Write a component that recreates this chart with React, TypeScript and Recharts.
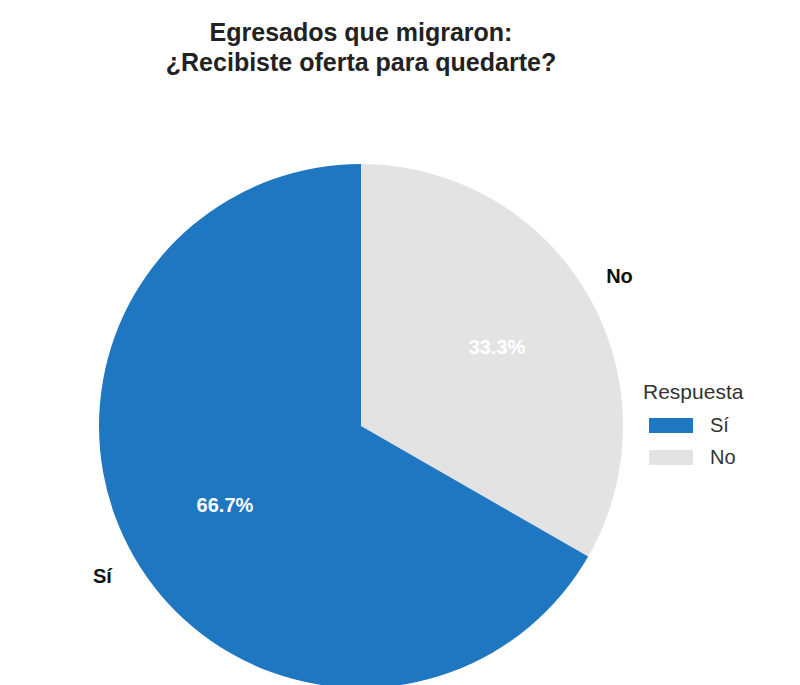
import { Legend, Pie, PieChart, Cell } from 'recharts';

const respuestas = ['No', 'Sí'];
const porcentajes = [33.3, 66.7];
const colores = ['#e3e3e3', '#1f77c2'];
const legendOrder = ['Sí', 'No'];

const data = respuestas.map((name, i) => ({ name, value: porcentajes[i] }));

const RAD = Math.PI / 180;

function SliceLabel(props: any) {
  const { cx, cy, midAngle, outerRadius, payload } = props;
  const cos = Math.cos(-midAngle * RAD);
  const sin = Math.sin(-midAngle * RAD);
  const rIn = outerRadius * 0.6;
  const rOut = outerRadius * 1.14;
  return (
    <g>
      <text
        x={cx + rIn * cos}
        y={cy + rIn * sin}
        textAnchor="middle"
        dominantBaseline="central"
        fill="#ffffff"
        fontSize={20}
        fontWeight="bold"
      >
        {`${payload.value.toFixed(1)}%`}
      </text>
      <text
        x={cx + rOut * cos}
        y={cy + rOut * sin}
        textAnchor="middle"
        dominantBaseline="central"
        fill="#111111"
        fontSize={20}
        fontWeight="bold"
      >
        {payload.name}
      </text>
    </g>
  );
}

function LegendContent() {
  return (
    <div style={{ fontFamily: '"Liberation Sans", Arial, sans-serif', color: '#333' }}>
      <div style={{ fontSize: 21, marginBottom: 5, lineHeight: '24px' }}>Respuesta</div>
      {legendOrder.map((name) => {
        const i = respuestas.indexOf(name);
        return (
          <div key={name} style={{ display: 'flex', alignItems: 'center', height: 32 }}>
            <span
              style={{
                display: 'inline-block',
                width: 44,
                height: 15,
                background: colores[i],
                marginLeft: 6,
                marginRight: 17,
              }}
            />
            <span style={{ fontSize: 20 }}>{name}</span>
          </div>
        );
      })}
    </div>
  );
}

export default function App() {
  return (
    <div
      style={{
        position: 'absolute',
        left: 0,
        top: 0,
        width: 800,
        height: 685,
        background: '#fff',
        overflow: 'hidden',
        fontFamily: '"Liberation Sans", Arial, sans-serif',
      }}
    >
      <div
        style={{
          position: 'absolute',
          top: 17,
          left: 0,
          width: 722,
          textAlign: 'center',
          fontSize: 25,
          fontWeight: 'bold',
          color: '#222',
          lineHeight: '30px',
        }}
      >
        Egresados que migraron:
        <br />
        ¿Recibiste oferta para quedarte?
      </div>
      <PieChart width={800} height={685} style={{ position: 'absolute', left: 0, top: 0 }}>
        <Pie
          data={data}
          dataKey="value"
          nameKey="name"
          cx={356}
          cy={421}
          outerRadius={262}
          startAngle={90}
          endAngle={-270}
          stroke="none"
          label={SliceLabel}
          labelLine={false}
          isAnimationActive={false}
        >
          {data.map((d, i) => (
            <Cell key={d.name} fill={colores[i]} />
          ))}
        </Pie>
        <Legend
          content={<LegendContent />}
          layout="vertical"
          wrapperStyle={{ position: 'absolute', left: 643, top: 380, width: 150 }}
        />
      </PieChart>
    </div>
  );
}
